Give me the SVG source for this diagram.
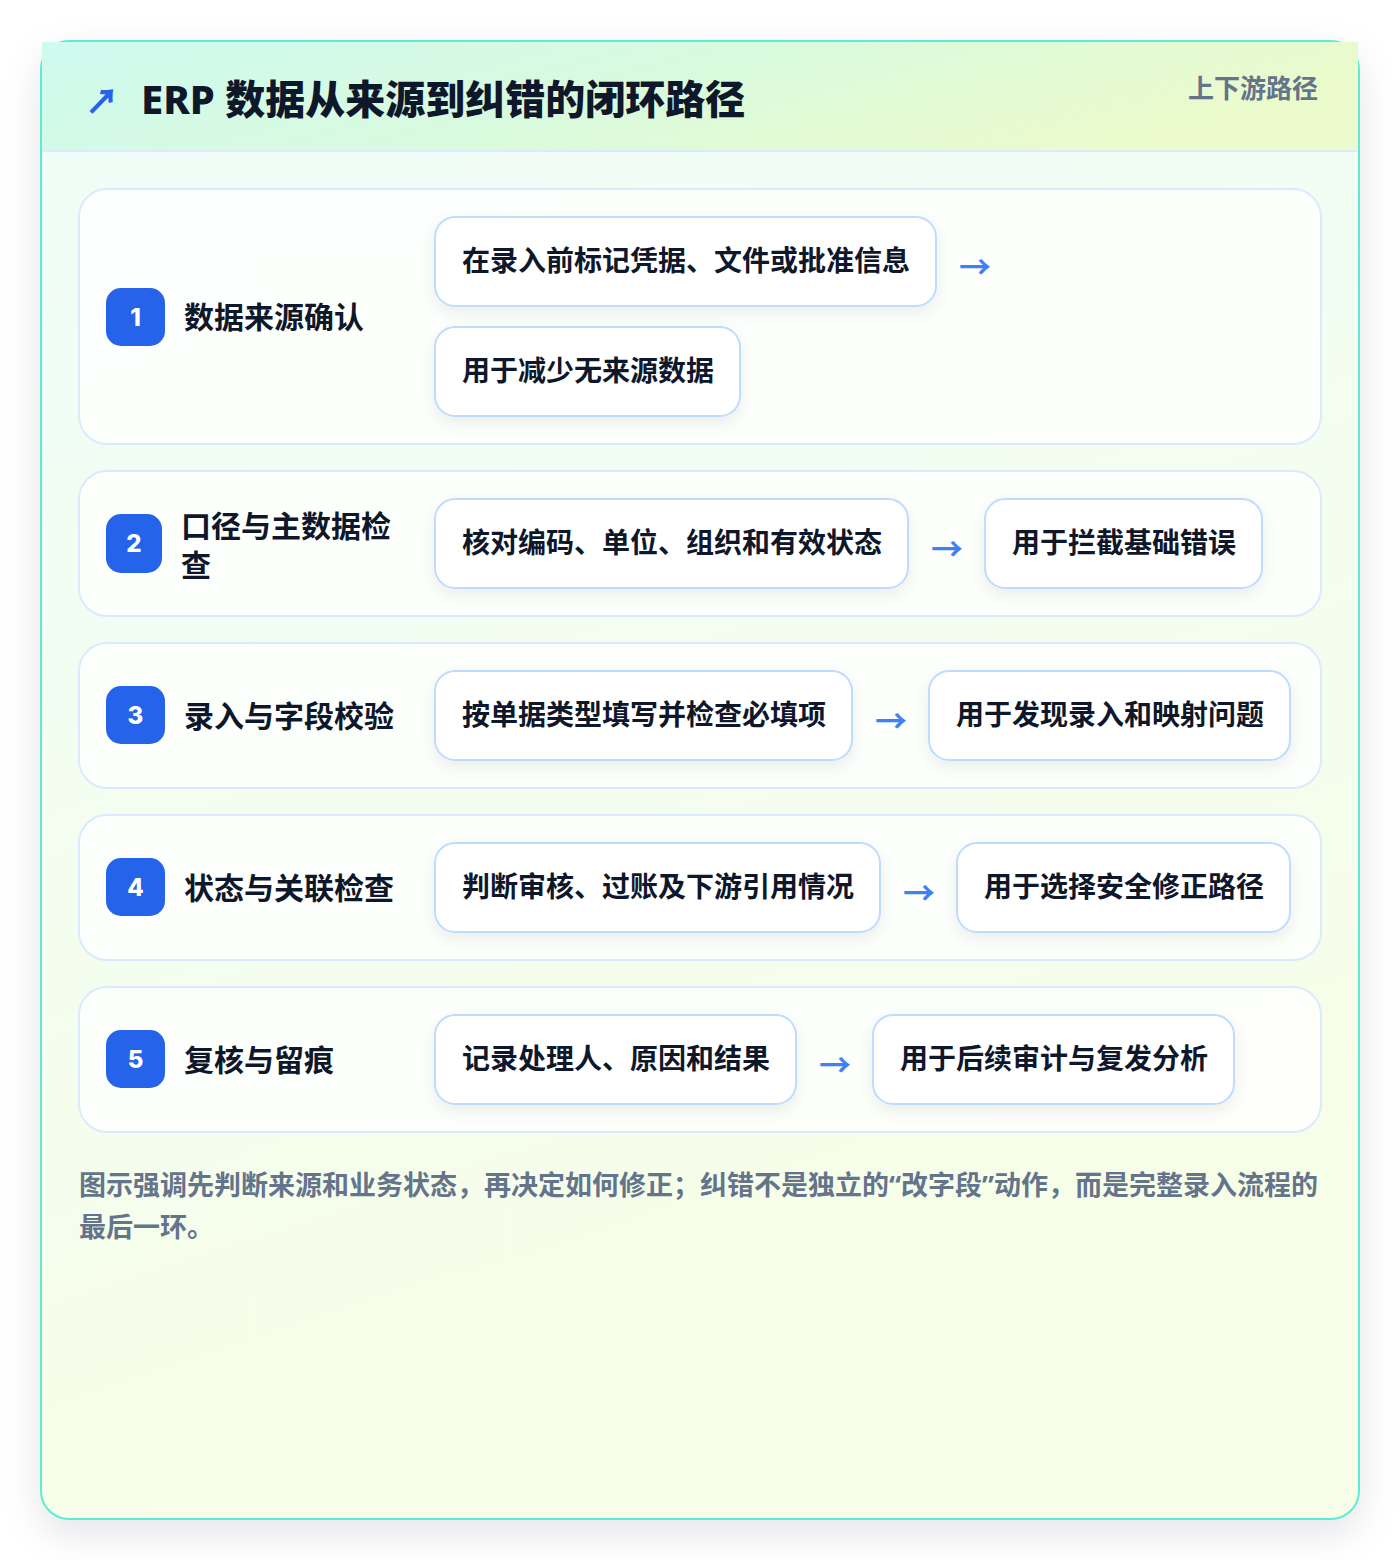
<svg xmlns="http://www.w3.org/2000/svg" width="1400" height="1560" viewBox="0 0 1400 1560">
<defs>
<linearGradient id="bodyG" x1="0" y1="0" x2="0.3" y2="1">
<stop offset="0" stop-color="#effdf9"/>
<stop offset="1" stop-color="#f7fee7"/>
</linearGradient>
<linearGradient id="headG" x1="0" y1="0" x2="1" y2="0.3">
<stop offset="0" stop-color="#cffaf0"/>
<stop offset="0.5" stop-color="#d8fadf"/>
<stop offset="1" stop-color="#ebfbcc"/>
</linearGradient>
<filter id="cardShadow" x="-10%" y="-10%" width="120%" height="120%">
<feDropShadow dx="0" dy="14" stdDeviation="18" flood-color="#0f172a" flood-opacity="0.10"/>
</filter>
<filter id="boxShadow" x="-10%" y="-20%" width="120%" height="150%">
<feDropShadow dx="0" dy="6" stdDeviation="8" flood-color="#0f172a" flood-opacity="0.07"/>
</filter>
</defs>
<style>
.row{fill:#ffffff;fill-opacity:0.82;stroke:#dbeafe;stroke-width:2}
.box{fill:#ffffff;stroke:#bfdbfe;stroke-width:2}
.badge{fill:#2563eb}
.num{font-family:"Inter","Noto Sans",sans-serif;font-weight:800;font-size:24px;fill:#ffffff;text-anchor:middle}
.lbl{font-family:"Noto Sans","Noto Sans CJK SC",sans-serif;font-weight:700;font-size:30px;fill:#0f172a}
.btx{font-family:"Noto Sans","Noto Sans CJK SC",sans-serif;font-weight:700;font-size:28px;fill:#0f172a}
.arr{font-family:"Noto Sans CJK SC",sans-serif;font-weight:700;font-size:32px;fill:#3b82f6}
.foot{font-family:"Noto Sans","Noto Sans CJK SC",sans-serif;font-weight:700;font-size:27px;fill:#64748b}
</style>
<rect x="0" y="0" width="1400" height="1560" fill="#ffffff"/>
<g id="card">
<rect x="41" y="41" width="1318" height="1478" rx="28" fill="url(#bodyG)" stroke="#5eead4" stroke-width="2" filter="url(#cardShadow)"/>
<rect x="42" y="42" width="1316" height="109" fill="url(#headG)"/>
<line x1="42" y1="151" x2="1358" y2="151" stroke="#dbeafe" stroke-width="2"/>
<text x="85" y="114" font-family="Noto Sans CJK SC, sans-serif" font-size="34" font-weight="900" fill="#2563eb">↗</text>
<text x="141" y="114" font-family="Noto Sans, Noto Sans CJK SC, sans-serif" font-size="40" font-weight="800" fill="#0f172a">ERP 数据从来源到纠错的闭环路径</text>
<text x="1318" y="98" text-anchor="end" font-family="Noto Sans, Noto Sans CJK SC, sans-serif" font-size="26" font-weight="700" fill="#64748b">上下游路径</text>
</g>
<g id="step1">
<rect class="row" x="79" y="189" width="1242" height="255" rx="28"/>
<rect class="badge" x="106" y="288" width="59" height="58" rx="15"/>
<text class="num" x="135.5" y="326">1</text>
<text class="lbl" x="184" y="328">数据来源确认</text>
<rect class="box" x="435" y="217" width="501" height="89" rx="20" filter="url(#boxShadow)"/>
<text class="btx" x="462" y="271">在录入前标记凭据、文件或批准信息</text>
<rect class="box" x="435" y="327" width="305" height="89" rx="20" filter="url(#boxShadow)"/>
<text class="btx" x="462" y="381">用于减少无来源数据</text>
</g>
<g id="step2">
<rect class="row" x="79" y="471" width="1242" height="145" rx="28"/>
<rect class="badge" x="106" y="514" width="56" height="59" rx="15"/>
<text class="num" x="134" y="552">2</text>
<text class="lbl" x="181" y="537">口径与主数据检</text>
<text class="lbl" x="181" y="576">查</text>
<rect class="box" x="435" y="499" width="473" height="89" rx="20" filter="url(#boxShadow)"/>
<text class="btx" x="462" y="553">核对编码、单位、组织和有效状态</text>
<rect class="box" x="985" y="499" width="277" height="89" rx="20" filter="url(#boxShadow)"/>
<text class="btx" x="1012" y="553">用于拦截基础错误</text>
</g>
<g id="step3">
<rect class="row" x="79" y="643" width="1242" height="145" rx="28"/>
<rect class="badge" x="106" y="686" width="59" height="58" rx="15"/>
<text class="num" x="135.5" y="724">3</text>
<text class="lbl" x="184" y="727">录入与字段校验</text>
<rect class="box" x="435" y="671" width="417" height="89" rx="20" filter="url(#boxShadow)"/>
<text class="btx" x="462" y="725">按单据类型填写并检查必填项</text>
<rect class="box" x="929" y="671" width="361" height="89" rx="20" filter="url(#boxShadow)"/>
<text class="btx" x="956" y="725">用于发现录入和映射问题</text>
</g>
<g id="step4">
<rect class="row" x="79" y="815" width="1242" height="145" rx="28"/>
<rect class="badge" x="106" y="858" width="59" height="58" rx="15"/>
<text class="num" x="135.5" y="896">4</text>
<text class="lbl" x="184" y="899">状态与关联检查</text>
<rect class="box" x="435" y="843" width="445" height="89" rx="20" filter="url(#boxShadow)"/>
<text class="btx" x="462" y="897">判断审核、过账及下游引用情况</text>
<rect class="box" x="957" y="843" width="333" height="89" rx="20" filter="url(#boxShadow)"/>
<text class="btx" x="984" y="897">用于选择安全修正路径</text>
</g>
<g id="step5">
<rect class="row" x="79" y="987" width="1242" height="145" rx="28"/>
<rect class="badge" x="106" y="1030" width="59" height="58" rx="15"/>
<text class="num" x="135.5" y="1068">5</text>
<text class="lbl" x="184" y="1071">复核与留痕</text>
<rect class="box" x="435" y="1015" width="361" height="89" rx="20" filter="url(#boxShadow)"/>
<text class="btx" x="462" y="1069">记录处理人、原因和结果</text>
<rect class="box" x="873" y="1015" width="361" height="89" rx="20" filter="url(#boxShadow)"/>
<text class="btx" x="900" y="1069">用于后续审计与复发分析</text>
</g>
<g id="connectors">
<text class="arr" x="959" y="279">→</text>
<text class="arr" x="931" y="561">→</text>
<text class="arr" x="875" y="733">→</text>
<text class="arr" x="903" y="905">→</text>
<text class="arr" x="819" y="1077">→</text>
</g>
<g id="note">
<text class="foot" x="79" y="1195">图示强调先判断来源和业务状态，再决定如何修正；纠错不是独立的“改字段”动作，而是完整录入流程的</text>
<text class="foot" x="79" y="1237">最后一环。</text>
</g>
</svg>
